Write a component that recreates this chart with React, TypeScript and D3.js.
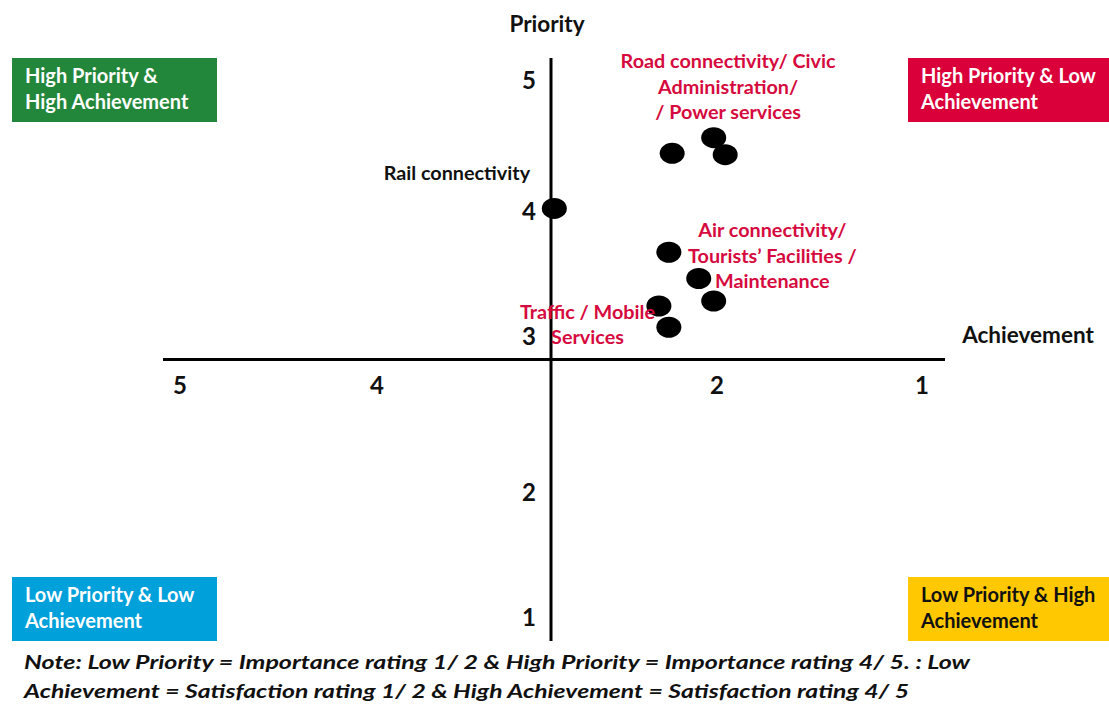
import React from "react";
import * as d3 from "d3";

// Rating ticks on both axes (the centre value 3 on the achievement axis is the crossing point)
const achievementTicks = [5, 4, 2, 1];
const priorityTicks = [5, 4, 3, 2, 1];

// Service points: achievement (x, reversed) and priority (y)
const serviceNames = [
  "Road connectivity", "Civic Administration", "Power services",
  "Rail connectivity",
  "Air connectivity", "Tourists' Facilities", "Maintenance",
  "Traffic", "Mobile Services",
];
const achievementValues = [2.27, 2.02, 1.96, 2.98, 2.29, 2.11, 2.02, 2.35, 2.29];
const priorityValues = [4.44, 4.56, 4.43, 4.02, 3.67, 3.46, 3.28, 3.24, 3.07];

// Axes cross at these rating values
const crossAchievement = 3;
const crossPriority = 2.85;

const quadrants = [
  { lines: ["High Priority &", "High Achievement"], fill: "#23873b", text: "#ffffff", side: "left", row: "top" },
  { lines: ["High Priority & Low", "Achievement"], fill: "#da0039", text: "#ffffff", side: "right", row: "top" },
  { lines: ["Low Priority & Low", "Achievement"], fill: "#00a0db", text: "#ffffff", side: "left", row: "bottom" },
  { lines: ["Low Priority & High", "Achievement"], fill: "#ffc800", text: "#111111", side: "right", row: "bottom" },
];

// Group captions, anchored at (achievement, priority) of their first baseline
const groupLabels = [
  { lines: ["Road connectivity/ Civic", "Administration/", "/ Power services"], at: [1.946, 5.09], anchor: "middle", color: "#d60a3e" },
  { lines: ["Air connectivity/", "Tourists\u2019 Facilities /", "Maintenance"], at: [1.73, 3.79], anchor: "middle", color: "#d60a3e" },
  { lines: ["Traffic / Mobile", "Services"], at: [2.78, 3.14], anchor: "middle", color: "#d60a3e" },
  { lines: ["Rail connectivity"], at: [3.12, 4.24], anchor: "end", color: "#111111" },
];

const noteLines = [
  "Note: Low Priority = Importance rating 1/ 2 & High Priority  = Importance rating 4/ 5. : Low",
  "Achievement = Satisfaction rating 1/ 2 & High Achievement = Satisfaction rating 4/ 5",
];

const W = 1109;
const H = 704;
const FONT = "Lato, 'Open Sans', sans-serif";

export default function App() {
  const x = d3.scaleLinear().domain([5, 4, 3, 2, 1]).range([180, 377, 551, 717, 922]);
  const y = d3.scaleLinear().domain([1, 2, 3, 4, 5]).range([617, 492, 336, 211, 80]);

  const axisX = x(crossAchievement);
  const axisY = y(crossPriority);

  const boxW = 205;
  const boxH = 64;
  const boxLeft = 12;
  const boxRight = 908;
  const boxTop = 58;
  const boxBottom = 577;

  return (
    <div style={{ position: "absolute", left: 0, top: 0 }}>
      <svg width={W} height={H} style={{ display: "block", background: "#fff" }} fontFamily={FONT}>
        {/* quadrant captions */}
        {quadrants.map((q, i) => {
          const bx = q.side === "left" ? boxLeft : boxRight;
          const by = q.row === "top" ? boxTop : boxBottom;
          const bw = q.side === "left" ? boxW : W - boxRight;
          return (
            <g key={i}>
              <rect x={bx} y={by} width={bw} height={boxH} fill={q.fill} />
              {q.lines.map((t, j) => (
                <text key={j} x={bx + 13} y={by + 25 + j * 26} fill={q.text} fontSize={20} fontWeight={700}>
                  {t}
                </text>
              ))}
            </g>
          );
        })}

        {/* axes */}
        <line x1={163} x2={945} y1={axisY} y2={axisY} stroke="#000" strokeWidth={3} />
        <line x1={axisX} x2={axisX} y1={58} y2={641} stroke="#000" strokeWidth={3} />

        {/* axis titles */}
        <text x={547} y={32} textAnchor="middle" fontSize={22.5} fontWeight={700} fill="#111">Priority</text>
        <text x={1028} y={343} textAnchor="middle" fontSize={22.5} fontWeight={700} fill="#111">Achievement</text>

        {/* achievement tick labels */}
        {achievementTicks.map((t) => (
          <text key={t} x={x(t)} y={394} textAnchor="middle" fontSize={24} fontWeight={700} fill="#111">
            {t}
          </text>
        ))}
        {/* priority tick labels */}
        {priorityTicks.map((t) => (
          <text key={t} x={529} y={y(t)} dy="0.36em" textAnchor="middle" fontSize={24} fontWeight={700} fill="#111">
            {t}
          </text>
        ))}

        {/* service points */}
        {serviceNames.map((n, i) => (
          <ellipse key={n} cx={x(achievementValues[i])} cy={y(priorityValues[i])} rx={12.5} ry={10.5} fill="#000" />
        ))}

        {/* group labels */}
        {groupLabels.map((g, i) => (
          <text key={i} textAnchor={g.anchor} fill={g.color} fontSize={19.8} fontWeight={700}>
            {g.lines.map((t, j) => (
              <tspan key={j} x={x(g.at[0])} y={y(g.at[1]) + j * 25.5}>
                {t}
              </tspan>
            ))}
          </text>
        ))}

        {/* footnote */}
        {noteLines.map((t, i) => (
          <text
            key={i}
            x={24}
            y={669 + i * 29}
            fontSize={19.5}
            fontWeight={700}
            fontStyle="italic"
            fill="#111"
            textLength={i === 0 ? 946 : 885}
            lengthAdjust="spacingAndGlyphs"
          >
            {t}
          </text>
        ))}
      </svg>
    </div>
  );
}
